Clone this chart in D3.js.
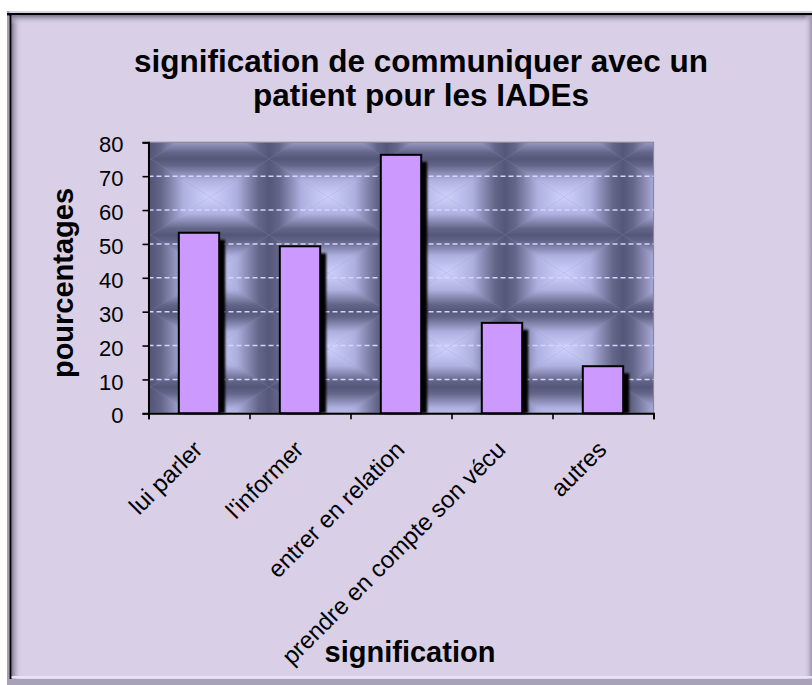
<!DOCTYPE html>
<html>
<head>
<meta charset="utf-8">
<script src="https://cdn.jsdelivr.net/npm/d3@7"></script>
<style>
  html, body { margin: 0; padding: 0; background: #ffffff; }
  svg { display: block; }
  text { font-family: Arial, "Liberation Sans", sans-serif; fill: #000; }
</style>
</head>
<body>
<svg id="chart" width="812" height="685"></svg>
<script>
// ---- data ----
const categories = ["lui parler", "l'informer", "entrer en relation", "prendre en compte son vécu", "autres"];
const values = [53.3, 49.3, 76.3, 26.7, 13.9];
const yTicks = [0, 10, 20, 30, 40, 50, 60, 70, 80];
const titleLines = ["signification de communiquer avec un", "patient pour les IADEs"];
const xTitle = "signification";
const yTitle = "pourcentages";

// ---- layout ----
const W = 812, H = 685;
const plot = { left: 148.5, right: 653.5, top: 142.3, bottom: 413.3 };

const svg = d3.select("#chart");
const defs = svg.append("defs");

function lin(id, x1, y1, x2, y2, stops) {
  const g = defs.append("linearGradient").attr("id", id)
    .attr("x1", x1).attr("y1", y1).attr("x2", x2).attr("y2", y2);
  stops.forEach(s => g.append("stop").attr("offset", s[0]).attr("stop-color", s[1]).attr("stop-opacity", s[2] == null ? 1 : s[2]));
}
lin("bevL", 0, 0, 1, 0, [[0, "#7e788e"], [1, "#d9d0e7", 0]]);
lin("bevT", 0, 0, 0, 1, [[0, "#7e788e"], [1, "#d9d0e7", 0]]);
lin("bevR", 0, 0, 1, 0, [[0, "#d9d0e7", 0], [1, "#9a94aa"]]);

// plot texture (pillow tiles)
const tStops = [[0, "#55577a"], [0.18, "#65678a"], [0.55, "#aeb0e0"], [1, "#cfd1fc"]];
lin("gT", 0, 0, 0, 1, tStops);
lin("gB", 0, 1, 0, 0, tStops);
lin("gL", 0, 0, 1, 0, tStops);
lin("gR", 1, 0, 0, 0, tStops);
const tw = 118, th = 76;
const pat = defs.append("pattern").attr("id", "tex").attr("patternUnits", "userSpaceOnUse")
  .attr("x", 151).attr("y", 159).attr("width", tw).attr("height", th);
pat.append("rect").attr("width", tw).attr("height", th).attr("fill", "#8a8cb2");
pat.append("path").attr("d", `M0,0L${tw},0L${tw/2},${th/2}Z`).attr("fill", "url(#gT)");
pat.append("path").attr("d", `M0,${th}L${tw},${th}L${tw/2},${th/2}Z`).attr("fill", "url(#gB)");
pat.append("path").attr("d", `M0,0L0,${th}L${tw/2},${th/2}Z`).attr("fill", "url(#gL)");
pat.append("path").attr("d", `M${tw},0L${tw},${th}L${tw/2},${th/2}Z`).attr("fill", "url(#gR)");

defs.append("filter").attr("id", "soft").attr("x", "-20%").attr("y", "-20%").attr("width", "140%").attr("height", "140%")
  .append("feGaussianBlur").attr("stdDeviation", 0.8);

// ---- frame ----
svg.append("rect").attr("x", 0).attr("y", 0).attr("width", W).attr("height", H).attr("fill", "#ffffff");
svg.append("rect").attr("x", 7).attr("y", 11).attr("width", W).attr("height", H).attr("fill", "#d9d0e7");
svg.append("rect").attr("x", 7).attr("y", 11).attr("width", 2.5).attr("height", H).attr("fill", "#a49eb4");
svg.append("rect").attr("x", 9.5).attr("y", 13).attr("width", 2.2).attr("height", H).attr("fill", "#000");
svg.append("rect").attr("x", 7).attr("y", 13).attr("width", W).attr("height", 2.4).attr("fill", "#000");
svg.append("rect").attr("x", 11.7).attr("y", 15.4).attr("width", 10).attr("height", H).attr("fill", "url(#bevL)");
svg.append("rect").attr("x", 11.7).attr("y", 15.4).attr("width", W).attr("height", 9).attr("fill", "url(#bevT)");
svg.append("rect").attr("x", 804).attr("y", 15.4).attr("width", 8).attr("height", H).attr("fill", "url(#bevR)");
svg.append("rect").attr("x", 11.7).attr("y", 676).attr("width", W).attr("height", 2.5).attr("fill", "#e9e3f2");
svg.append("rect").attr("x", 7).attr("y", 679).attr("width", W).attr("height", 6).attr("fill", "#a8a2b8");

// ---- scales ----
const x = d3.scaleBand().domain(categories).range([plot.left, plot.right]).paddingInner(0.6).paddingOuter(0.3);
const y = d3.scaleLinear().domain([0, 80]).range([plot.bottom, plot.top]);
const xEdges = d3.scaleLinear().domain([0, categories.length]).range([plot.left, plot.right]);

// plot background
svg.append("rect").attr("x", plot.left).attr("y", plot.top)
  .attr("width", plot.right - plot.left).attr("height", plot.bottom - plot.top)
  .attr("fill", "url(#tex)").attr("stroke", "#8a8898").attr("stroke-width", 1.2);

// gridlines
svg.append("g").selectAll("line").data(yTicks.filter(v => v > 0 && v < 80)).join("line")
  .attr("x1", plot.left).attr("x2", plot.right)
  .attr("y1", d => y(d)).attr("y2", d => y(d))
  .attr("stroke", "#d4d4ff").attr("stroke-width", 1.6).attr("stroke-dasharray", "5,3");

// bars with shadows
const bars = svg.append("g");
const sh = 6, sv = 7;
bars.selectAll("rect.shadow").data(values).join("rect").attr("class", "shadow")
  .attr("x", (d, i) => x(categories[i]) + sh)
  .attr("y", d => y(d) + sv)
  .attr("width", x.bandwidth())
  .attr("height", d => Math.max(0, y(0) - y(d) - sv))
  .attr("fill", "#000").attr("filter", "url(#soft)");
bars.selectAll("rect.bar").data(values).join("rect").attr("class", "bar")
  .attr("x", (d, i) => x(categories[i]))
  .attr("y", d => y(d))
  .attr("width", x.bandwidth())
  .attr("height", d => y(0) - y(d))
  .attr("fill", "#cc99ff").attr("stroke", "#000").attr("stroke-width", 2);

// y axis
const yAxis = svg.append("g").attr("transform", `translate(${plot.left},0)`)
  .call(d3.axisLeft(y).tickValues(yTicks).tickSize(6).tickPadding(19).tickFormat(d3.format("d")));
yAxis.select(".domain").attr("stroke", "#000").attr("stroke-width", 2);
yAxis.selectAll(".tick line").attr("stroke", "#000").attr("stroke-width", 1.6);
yAxis.selectAll(".tick text").attr("font-size", 22).attr("font-family", "Arial, 'Liberation Sans', sans-serif")
  .attr("dy", "0.44em").attr("fill", "#000");

// x axis (ticks at category boundaries)
const xAxis = svg.append("g").attr("transform", `translate(0,${plot.bottom})`)
  .call(d3.axisBottom(xEdges).tickValues(d3.range(categories.length + 1)).tickSize(6).tickFormat(""));
xAxis.select(".domain").attr("stroke", "#000").attr("stroke-width", 2);
xAxis.selectAll(".tick line").attr("stroke", "#000").attr("stroke-width", 1.6);

// category labels (rotated)
svg.append("g").selectAll("text").data(categories).join("text")
  .attr("transform", d => `translate(${x(d) + x.bandwidth() / 2 + 5},451) rotate(-45)`)
  .attr("text-anchor", "end")
  .attr("font-size", 24)
  .text(d => d);

// titles
const tt = svg.append("text").attr("x", 421).attr("text-anchor", "middle")
  .attr("font-size", 31.5).attr("font-weight", "bold");
tt.selectAll("tspan").data(titleLines).join("tspan")
  .attr("x", 421).attr("y", (d, i) => 72 + i * 34).text(d => d);

svg.append("text").attr("x", 410).attr("y", 662).attr("text-anchor", "middle")
  .attr("font-size", 29).attr("font-weight", "bold").text(xTitle);

svg.append("text").attr("transform", "translate(73,283) rotate(-90)").attr("text-anchor", "middle")
  .attr("font-size", 29).attr("font-weight", "bold").text(yTitle);
</script>
</body>
</html>
